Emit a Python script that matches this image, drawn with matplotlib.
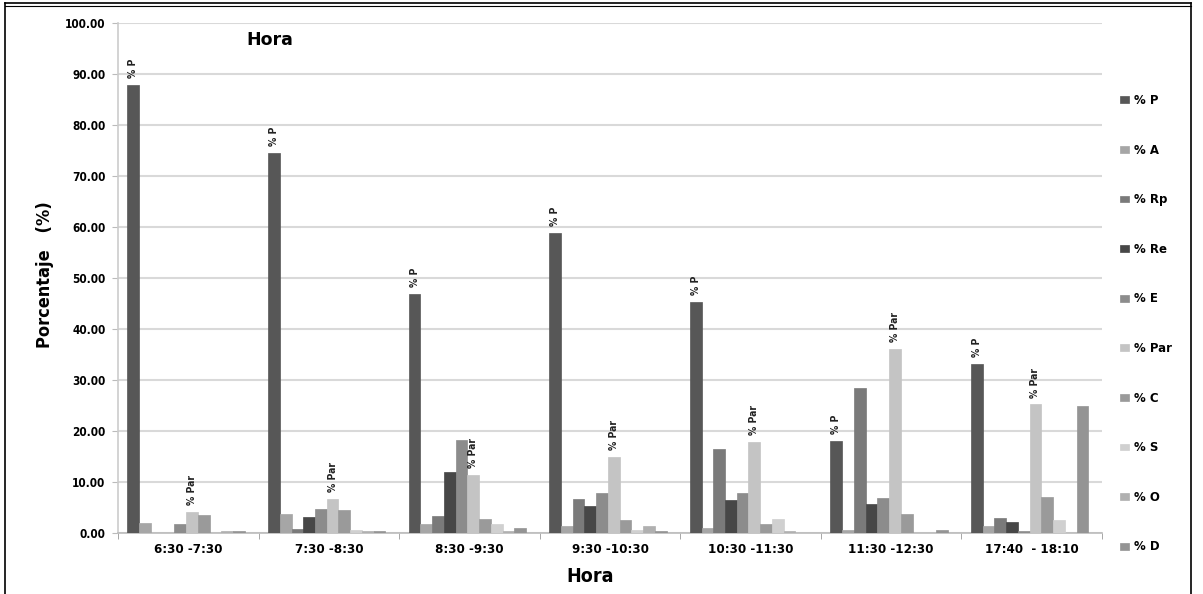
import matplotlib
matplotlib.use("Agg")
import matplotlib.pyplot as plt
import numpy as np
from matplotlib.lines import Line2D

plt.rcParams['font.family'] = ['DejaVu Sans']

categories = ["6:30 -7:30", "7:30 -8:30", "8:30 -9:30", "9:30 -10:30",
              "10:30 -11:30", "11:30 -12:30", "17:40  - 18:10"]
series_names = ["% P", "% A", "% Rp", "% Re", "% E", "% Par", "% C", "% S", "% O", "% D"]

p_vals   = [87.8, 74.5, 46.8, 58.8, 45.3, 18.0, 33.2]
a_vals   = [2.0, 3.7, 1.8, 1.3, 1.0, 0.5, 1.4]
rp_vals  = [0.0, 0.7, 3.4, 6.6, 16.4, 28.5, 3.0]
re_vals  = [0.0, 3.1, 11.9, 5.2, 6.5, 5.7, 2.1]
e_vals   = [1.8, 4.7, 18.2, 7.8, 7.9, 6.9, 0.3]
par_vals = [4.2, 6.7, 11.4, 15.0, 17.9, 36.0, 25.2]
c_vals   = [3.6, 4.5, 2.8, 2.6, 1.7, 3.8, 7.0]
s_vals   = [0.0, 0.6, 1.8, 0.6, 2.7, 0.0, 2.6]
o_vals   = [0.4, 0.3, 0.3, 1.4, 0.3, 0.0, 0.0]
d_vals   = [0.4, 0.3, 1.0, 0.4, 0.0, 0.5, 25.0]

all_vals = [p_vals, a_vals, rp_vals, re_vals, e_vals, par_vals, c_vals, s_vals, o_vals, d_vals]
colors = ["#575757", "#a6a6a6", "#7a7a7a", "#474747", "#8c8c8c",
          "#c4c4c4", "#9a9a9a", "#d0d0d0", "#b0b0b0", "#949494"]

W, H = 1203, 594
fig = plt.figure(figsize=(W / 100, H / 100), dpi=100)
ax = fig.add_axes([118 / W, 1 - 533 / H, (1102 - 118) / W, (533 - 23) / H])

x = np.arange(len(categories))
n = len(series_names)
bw = 0.0835
for i, (vals, col, name) in enumerate(zip(all_vals, colors, series_names)):
    pos = x - (n - 1) / 2 * bw + i * bw - 0.015
    ax.bar(pos, vals, width=bw, color=col, edgecolor=col, linewidth=0.5, label=name, zorder=3)
    if name in ("% P", "% Par"):
        for xp, v in zip(pos, vals):
            ax.annotate(name, (xp, v), xytext=(0, 5), textcoords="offset points",
                        rotation=90, ha="center", va="bottom", fontsize=7.5,
                        fontweight="bold", fontstretch="condensed", color="#222222")

ax.set_xlim(-0.5, len(categories) - 0.5)
ax.set_ylim(0, 100)
ax.set_yticks(np.arange(0, 101, 10))
ax.set_yticklabels([f"{v:.2f}" for v in np.arange(0, 101, 10)], fontsize=8.5,
                   fontweight="bold", fontstretch="condensed")
ax.set_xticks(x)
ax.set_xticklabels(categories, fontsize=9.5, fontweight="bold", fontstretch="condensed")
ax.set_xticks(np.arange(-0.5, len(categories), 1), minor=True)
ax.tick_params(axis="x", which="major", length=0, pad=7)
ax.tick_params(axis="x", which="minor", length=4, color="#999999")
ax.tick_params(axis="y", length=4, color="#bbbbbb", pad=5)
ax.grid(axis="y", color="#d9d9d9", linewidth=1.5, zorder=0)
ax.set_axisbelow(True)
for s in ("top", "right"):
    ax.spines[s].set_visible(False)
ax.spines["left"].set_color("#cccccc")
ax.spines["left"].set_linewidth(1.2)
ax.spines["bottom"].set_color("#bbbbbb")
ax.spines["bottom"].set_linewidth(1.2)

ax.text(0.154, 0.967, "Hora", transform=ax.transAxes, ha="center", va="center",
        fontsize=12.5, fontweight="bold")
fig.text(45 / W, 1 - 275 / H, "Porcentaje   (%)", rotation=90, ha="center", va="center",
         fontsize=13, fontweight="bold", fontstretch="condensed")
fig.text(590 / W, 1 - 576 / H, "Hora", ha="center", va="center",
         fontsize=14, fontweight="bold", fontstretch="condensed")

leg = ax.legend(loc="upper left", bbox_to_anchor=(1120 / W, 1 - 94 / H),
                bbox_transform=fig.transFigure, frameon=False,
                prop={"size": 8.5, "weight": "bold"}, handlelength=0.8,
                handleheight=0.5, handletextpad=0.4, labelspacing=3.1,
                borderaxespad=0, borderpad=0)

# outer frame
fig.add_artist(Line2D([5 / W, 1191 / W], [1 - 3 / H, 1 - 3 / H], transform=fig.transFigure, color="black", lw=1.2))
fig.add_artist(Line2D([5 / W, 1191 / W], [1 - 6 / H, 1 - 6 / H], transform=fig.transFigure, color="black", lw=0.8))
fig.add_artist(Line2D([5 / W, 5 / W], [0, 1 - 3 / H], transform=fig.transFigure, color="black", lw=1.2))
fig.add_artist(Line2D([1191 / W, 1191 / W], [0, 1 - 3 / H], transform=fig.transFigure, color="black", lw=1.2))

fig.savefig("out.png", dpi=100)
